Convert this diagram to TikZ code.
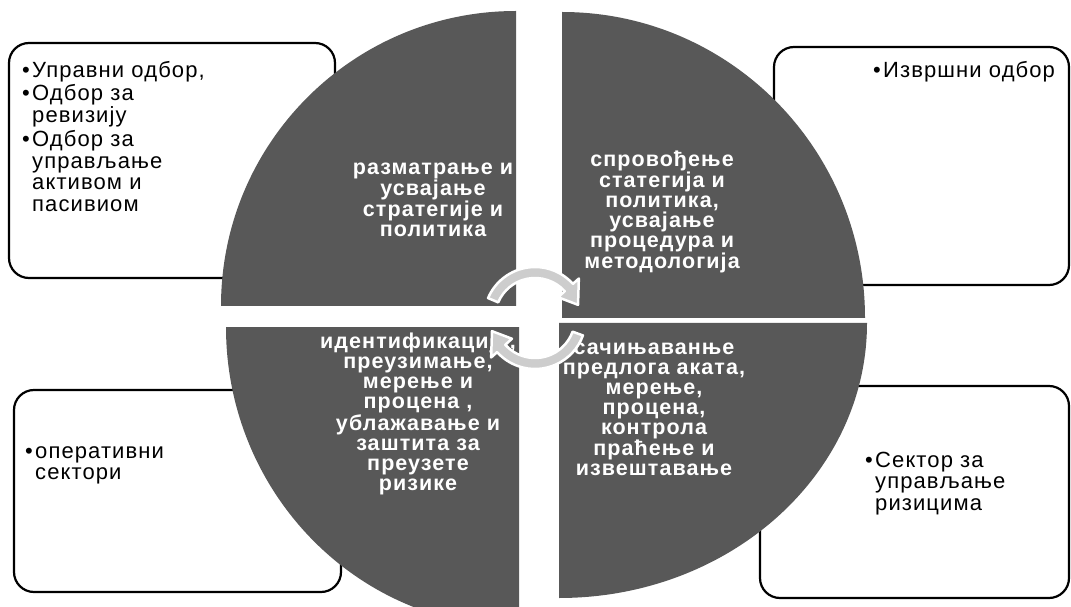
\documentclass[tikz,border=0pt]{standalone}
\usepackage{fontspec}
\setmainfont[LetterSpace=5]{Liberation Sans}
\usetikzlibrary{calc}
\definecolor{quadgray}{RGB}{88,88,88}
\definecolor{arrowgray}{RGB}{205,205,205}
\newcommand{\bul}{\makebox[10pt][l]{•}}
\newcommand{\ind}{\hspace*{10pt}}
\newcommand{\tallstrut}{\vphantom{Уб}}
\begin{document}
\begin{tikzpicture}[x=1pt,y=1pt,
  box/.style={draw=black, line width=2.2pt, fill=white, rounded corners=20pt, inner sep=0pt},
  quad/.style={fill=quadgray},
  qtext/.style={text=white, font=\bfseries\fontsize{21.5}{20}\selectfont, align=center, inner sep=0pt},
  btext/.style={font=\fontsize{22}{21.5}\selectfont, align=left, anchor=north west, inner sep=0pt},
  cyclearrow/.style={fill=arrowgray, draw=white, line width=2.5pt, line join=round}]
\useasboundingbox (0,0) rectangle (1071,606);
\fill[white] (0,0) rectangle (1071,606);
% corner boxes
\node[box, minimum width=326pt, minimum height=235pt] (tlbox) at (172,445.5) {};
\node[box, minimum width=295pt, minimum height=238pt] (trbox) at (921.5,440) {};
\node[box, minimum width=327pt, minimum height=202pt] (blbox) at (177.5,115) {};
\node[box, minimum width=309pt, minimum height=212pt] (brbox) at (914.5,114) {};
% quadrants
\fill[quad] (516,300) -- (221,300) arc[start angle=180, end angle=90, x radius=295pt, y radius=295pt] -- cycle;
\fill[quad] (562,288) -- (562,594) arc[start angle=90, end angle=0, x radius=303pt, y radius=306pt] -- cycle;
\fill[quad] (559,283) -- (867,283) arc[start angle=0, end angle=-90, x radius=308pt, y radius=275pt] -- cycle;
\fill[quad] (519,279) -- (519,-21) arc[start angle=270, end angle=180, x radius=293pt, y radius=300pt] -- cycle;
% box texts
\node[btext] (tltext) at (22,545) {\tallstrut\bul Управни одбор,\\[2pt]
  \bul Одбор за\\ \ind ревизију\\[3pt]
  \bul Одбор за\\ \ind управљање\\ \ind активом и\\ \ind пасивиом};
\node[btext] (trtext) at (873,545) {\tallstrut\bul Извршни одбор};
\node[btext] (bltext) at (25,164) {\tallstrut\bul оперативни\\ \ind сектори};
\node[btext] (brtext) at (865,155) {\tallstrut\bul Сектор за\\ \ind управљање\\ \ind ризицима};
% quadrant texts
\node[qtext] (tlq) at (433,406) {разматрање и\\усвајање\\стратегије и\\политика};
\node[qtext] (trq) at (662,394) {спровођење\\статегија и\\политика,\\усвајање\\процедура и\\методологија};
\node[qtext] (blq) at (418,192) {идентификација,\\преузимање,\\мерење и\\процена ,\\ублажавање и\\заштита за\\преузете\\ризике};
\node[qtext] (brq) at (654,197) {сачињаванње\\предлога аката,\\мерење,\\процена,\\контрола\\праћење и\\извештавање};
% cycle arrows
\coordinate (c) at (535,288);
\filldraw[cyclearrow] ($(c)+(157:51pt)$) arc[start angle=157, end angle=42, radius=51pt]
  -- ($(c)+(42:59pt)$) -- ($(c)+(17:45pt)$) -- ($(c)+(42:31pt)$)
  -- ($(c)+(42:40pt)$) arc[start angle=42, end angle=157, radius=40pt] -- cycle;
\filldraw[cyclearrow] ($(c)+(340:51pt)$) arc[start angle=340, end angle=222, radius=51pt]
  -- ($(c)+(222:59pt)$) -- ($(c)+(197:45pt)$) -- ($(c)+(222:31pt)$)
  -- ($(c)+(222:40pt)$) arc[start angle=222, end angle=340, radius=40pt] -- cycle;
\end{tikzpicture}
\end{document}
